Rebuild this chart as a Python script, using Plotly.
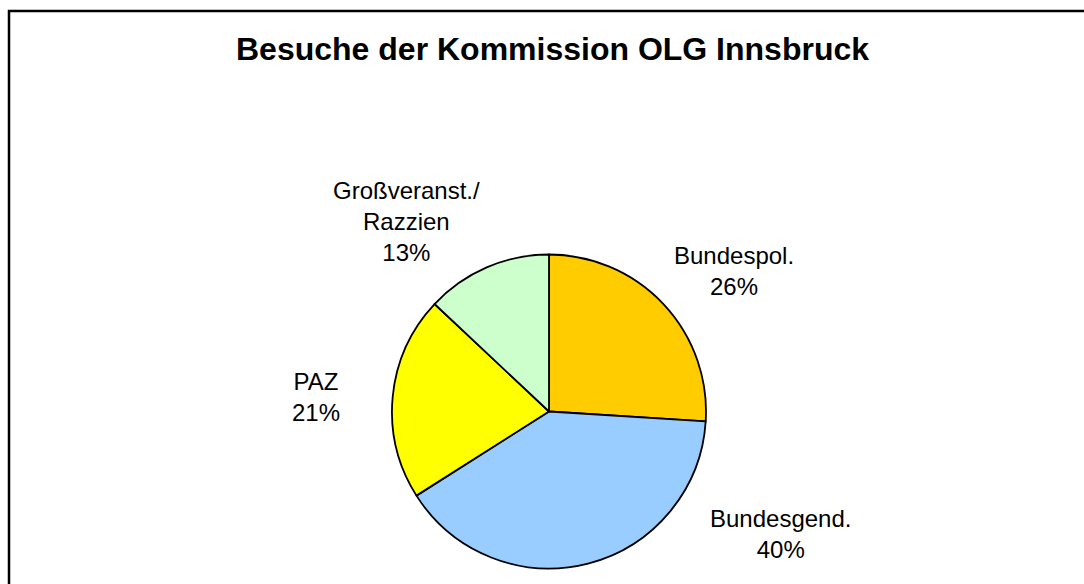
import plotly.graph_objects as go

# Data
categories = ["Bundespol.", "Bundesgend.", "PAZ", "Großveranst./<br>Razzien"]
values = [26, 40, 21, 13]
colors = ["#FFCC00", "#99CCFF", "#FFFF00", "#CCFFCC"]
title_text = "Besuche der Kommission OLG Innsbruck"

W, H = 1084, 584
# label centers (screen pixels)
label_pos = [(734, 271), (780, 534), (316, 397), (406, 221)]


def fx(px):
    return px / W


def fy(py):
    return 1 - py / H


total = sum(values)

fig = go.Figure()
cx, cy, r = 549, 411.5, 157
fig.add_trace(go.Pie(
    labels=categories,
    values=values,
    marker=dict(colors=colors, line=dict(color="black", width=1.8)),
    sort=False,
    direction="clockwise",
    rotation=0,
    textinfo="none",
    hoverinfo="label+percent",
    showlegend=False,
    domain=dict(x=[fx(cx - r), fx(cx + r)], y=[fy(cy + r), fy(cy - r)]),
))

annotations = []
for cat, v, (px, py) in zip(categories, values, label_pos):
    annotations.append(dict(
        text=f"{cat}<br>{round(100 * v / total)}%",
        x=fx(px), y=fy(py), xref="paper", yref="paper",
        xanchor="center", yanchor="middle", showarrow=False,
        font=dict(family="Liberation Sans, Arial, sans-serif", size=24, color="black"),
        align="center",
    ))
annotations.append(dict(
    text=f"<b>{title_text}</b>",
    x=fx(552.5), y=fy(49), xref="paper", yref="paper",
    xanchor="center", yanchor="middle", showarrow=False,
    font=dict(family="Liberation Sans, Arial, sans-serif", size=32, color="black"),
))

fig.update_layout(
    width=W, height=H,
    margin=dict(l=0, r=0, t=0, b=0),
    paper_bgcolor="white", plot_bgcolor="white",
    annotations=annotations,
    shapes=[dict(type="rect", xref="paper", yref="paper",
                 x0=fx(9), x1=1.2, y0=-0.2, y1=fy(11),
                 line=dict(color="black", width=2.5), fillcolor="rgba(0,0,0,0)")],
)

fig.write_html(
    "out.html",
    config={"displayModeBar": False},
    post_script="document.body.style.margin='0';document.body.style.overflow='hidden';",
)
